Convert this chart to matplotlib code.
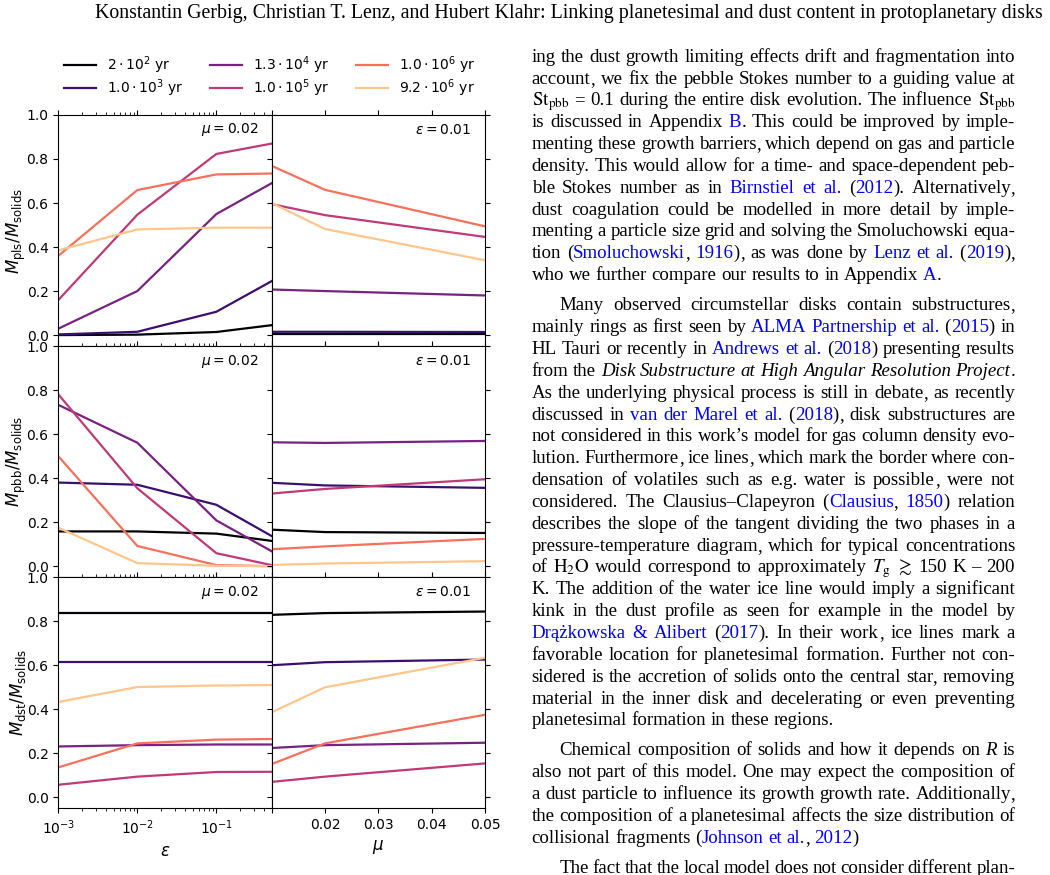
import re
import numpy as np
import matplotlib.pyplot as plt

# valores
eps = [1e-3, 1e-2, 1e-1, 0.5]
mu = [0.01, 0.02, 0.05]
times = [r'$2 \cdot 10^2$ yr', r'$1.0 \cdot 10^3$ yr', r'$1.3 \cdot 10^4$ yr',
         r'$1.0 \cdot 10^5$ yr', r'$1.0 \cdot 10^6$ yr', r'$9.2 \cdot 10^6$ yr']

# planetesimais
pls_eps = [
    [0.0, 0.002, 0.014, 0.045],
    [0.003, 0.015, 0.106, 0.245],
    [0.029, 0.20, 0.55, 0.69],
    [0.159, 0.547, 0.823, 0.870],
    [0.36, 0.659, 0.73, 0.734],
    [0.385, 0.48, 0.488, 0.488],
]
pls_mu = [
    [0.003, 0.003, 0.003],
    [0.015, 0.015, 0.014],
    [0.207, 0.200, 0.180],
    [0.595, 0.545, 0.446],
    [0.769, 0.660, 0.494],
    [0.600, 0.482, 0.340],
]
# pebbles
pbb_eps = [
    [0.158, 0.158, 0.148, 0.115],
    [0.380, 0.370, 0.279, 0.137],
    [0.733, 0.561, 0.208, 0.068],
    [0.781, 0.354, 0.059, 0.005],
    [0.500, 0.092, 0.005, 0.0],
    [0.175, 0.014, 0.002, 0.0],
]
pbb_mu = [
    [0.166, 0.155, 0.151],
    [0.379, 0.367, 0.356],
    [0.563, 0.560, 0.569],
    [0.330, 0.351, 0.395],
    [0.077, 0.090, 0.124],
    [0.006, 0.012, 0.023],
]
# poeira
dst_eps = [
    [0.836, 0.836, 0.836, 0.836],
    [0.613, 0.613, 0.613, 0.613],
    [0.231, 0.237, 0.240, 0.240],
    [0.057, 0.094, 0.115, 0.116],
    [0.136, 0.245, 0.262, 0.265],
    [0.433, 0.501, 0.508, 0.510],
]
dst_mu = [
    [0.829, 0.837, 0.844],
    [0.600, 0.614, 0.626],
    [0.224, 0.237, 0.248],
    [0.070, 0.094, 0.154],
    [0.151, 0.245, 0.375],
    [0.386, 0.500, 0.634],
]
ylabels = [r'$M_{\rm pls}/M_{\rm solids}$', r'$M_{\rm pbb}/M_{\rm solids}$',
           r'$M_{\rm dst}/M_{\rm solids}$']

header = ('Konstantin Gerbig, Christian T. Lenz, and Hubert Klahr: '
          'Linking planetesimal and dust content in protoplanetary disks')

# texto da coluna direita: listas de (texto, estilo) por linha
n, b, i, m = 'n', 'b', 'i', 'm'
para1 = [
    [("ing the dust growth limiting effects drift and fragmentation into", n)],
    [("account, we fix the pebble Stokes number to a guiding value at", n)],
    [(r"$\mathrm{St}_{\mathrm{pbb}}$", m), (" = 0.1 during the entire disk evolution. The influence ", n),
     (r"$\mathrm{St}_{\mathrm{pbb}}$", m)],
    [("is discussed in Appendix ", n), ("B", b), (". This could be improved by imple-", n)],
    [("menting these growth barriers, which depend on gas and particle", n)],
    [("density. This would allow for a time- and space-dependent peb-", n)],
    [("ble Stokes number as in ", n), ("Birnstiel et al.", b), (" (", n), ("2012", b),
     ("). Alternatively,", n)],
    [("dust coagulation could be modelled in more detail by imple-", n)],
    [("menting a particle size grid and solving the Smoluchowski equa-", n)],
    [("tion (", n), ("Smoluchowski", b), (", ", n), ("1916", b), ("), as was done by ", n),
     ("Lenz et al.", b), (" (", n), ("2019", b), ("),", n)],
    [("who we further compare our results to in Appendix ", n), ("A", b), (".", n)],
]
para2 = [
    [("Many observed circumstellar disks contain substructures,", n)],
    [("mainly rings as first seen by ", n), ("ALMA Partnership et al.", b), (" (", n),
     ("2015", b), (") in", n)],
    [("HL Tauri or recently in ", n), ("Andrews et al.", b), (" (", n), ("2018", b),
     (") presenting results", n)],
    [("from the ", n), ("Disk Substructure at High Angular Resolution Project", i), (".", n)],
    [("As the underlying physical process is still in debate, as recently", n)],
    [("discussed in ", n), ("van der Marel et al.", b), (" (", n), ("2018", b),
     ("), disk substructures are", n)],
    [("not considered in this work\u2019s model for gas column density evo-", n)],
    [("lution. Furthermore, ice lines, which mark the border where con-", n)],
    [("densation of volatiles such as e.g. water is possible, were not", n)],
    [("considered. The Clausius\u2013Clapeyron (", n), ("Clausius", b), (", ", n),
     ("1850", b), (") relation", n)],
    [("describes the slope of the tangent dividing the two phases in a", n)],
    [("pressure-temperature diagram, which for typical concentrations", n)],
    [("of ", n), (r"$\mathrm{H}_2\mathrm{O}$", m), (" would correspond to approximately ", n),
     (r"$T_\mathrm{g}$", m), (" ", n), (r"$\gtrsim$", m), (" 150 K \u2013 200", n)],
    [("K. The addition of the water ice line would imply a significant", n)],
    [("kink in the dust profile as seen for example in the model by", n)],
    [("Dr\u0105\u017ckowska & Alibert", b), (" (", n), ("2017", b),
     ("). In their work, ice lines mark a", n)],
    [("favorable location for planetesimal formation. Further not con-", n)],
    [("sidered is the accretion of solids onto the central star, removing", n)],
    [("material in the inner disk and decelerating or even preventing", n)],
    [("planetesimal formation in these regions.", n)],
]
para3 = [
    [("Chemical composition of solids and how it depends on ", n), ("R", i), (" is", n)],
    [("also not part of this model. One may expect the composition of", n)],
    [("a dust particle to influence its growth growth rate. Additionally,", n)],
    [("the composition of a planetesimal affects the size distribution of", n)],
    [("collisional fragments (", n), ("Johnson et al.", b), (", ", n), ("2012", b), (")", n)],
]
para4 = [
    [("The fact that the local model does not consider different plan-", n)],
]

fig, axs = plt.subplots(3, 2, figsize=(10.5, 8.75), dpi=100, sharex='col',
                        gridspec_kw=dict(hspace=0, wspace=0))
fig.subplots_adjust(left=0.0555, right=0.4619, top=0.8686, bottom=0.0762)

colors = plt.cm.magma([0.0, 0.2, 0.35, 0.52, 0.7, 0.88])
panels = [(pls_eps, pls_mu), (pbb_eps, pbb_mu), (dst_eps, dst_mu)]

for row, (left, right) in enumerate(panels):
    a, c = axs[row]
    for k in range(6):
        a.plot(eps, left[k], color=colors[k], lw=1.6, label=times[k])
        c.plot(mu, right[k], color=colors[k], lw=1.6)
    a.set_xscale('log')
    a.set_xlim(1e-3, 0.5)
    c.set_xlim(0.01, 0.05)
    c.set_xticks([0.01, 0.02, 0.03, 0.04, 0.05], ['', '0.02', '0.03', '0.04', '0.05'])
    for ax in (a, c):
        ax.set_ylim(-0.05, 1.0)
        ax.set_yticks(np.arange(0, 1.01, 0.2))
        ax.tick_params(which='both', direction='out', top=True, right=True, labelsize=10)
    c.tick_params(labelleft=False)
    a.set_ylabel(ylabels[row], fontsize=12, labelpad=-1)
    a.text(0.937, 0.935, r'$\mu = 0.02$', transform=a.transAxes, ha='right', va='center',
           fontsize=10)
    c.text(0.934, 0.935, r'$\varepsilon = 0.01$', transform=c.transAxes, ha='right',
           va='center', fontsize=10)

axs[2, 0].set_xlabel(r'$\varepsilon$', fontsize=12)
axs[2, 1].set_xlabel(r'$\mu$', fontsize=12)

handles, labels = axs[0, 0].get_legend_handles_labels()
fig.legend(handles, labels, ncol=3, loc='upper left', bbox_to_anchor=(57 / 1050, 1 - 47 / 875),
           frameon=False, fontsize=10, handlelength=2.3, borderpad=0, columnspacing=1.9,
           labelspacing=0.15)

# ---- texto da pagina ----
SERIF = 'Liberation Serif'
BODY = 13.6
LINK = '#0000ff'
renderer = fig.canvas.get_renderer()
W, H = fig.bbox.width, fig.bbox.height


def put(x, y, txt, st, size=BODY):
    kw = dict(fontsize=size, fontfamily=SERIF, va='baseline', ha='left', math_fontfamily='stix')
    if st == 'b':
        kw['color'] = LINK
    if st == 'i':
        kw['fontstyle'] = 'italic'
    return fig.text(x / W, 1 - y / H, txt, **kw)


def largura(txt, st):
    t = put(0, 0, txt, st)
    w = t.get_window_extent(renderer).width
    t.remove()
    return w


def palavras(segs):
    # separa em palavras; virgulas ficam como pedaco proprio
    words = [[]]
    for txt, st in segs:
        if st == 'm':
            words[-1].append((txt, st))
            continue
        parts = txt.split(' ')
        for k, p in enumerate(parts):
            if k > 0:
                words.append([])
            for q in re.split(r'(,)', p):
                if q:
                    words[-1].append((q, st))
    return [w for w in words if w]


def avancos(w):
    # posicao de cada pedaco dentro da palavra (ajuste antes da virgula)
    pos, xx = [], 0.0
    for k, (t, s) in enumerate(w):
        if t == ',' and k > 0 and w[k - 1][1] != 'm':
            pt = w[k - 1][0]
            xx += largura(pt + ',', n) - largura(pt, n) - largura(',', n)
        pos.append(xx)
        xx += largura(t, s)
    return pos, xx


espaco = largura('x x', n) - largura('xx', n)


def linha(y, segs, x0, x1, justificar):
    words = palavras(segs)
    lay = [avancos(w) for w in words]
    ws = [wd for _, wd in lay]
    gap = espaco
    if justificar and len(words) > 1:
        gap = (x1 - x0 - sum(ws)) / (len(words) - 1)
    x = x0
    for w, (pos, wd) in zip(words, lay):
        for (t, s), px in zip(w, pos):
            put(x + px, y, t, s)
        x += wd + gap


X0, X1 = 531.7, 1015.0
INDENT = 28.0
LEAD = 21.85
PARSKIP = 8.2

y = 61.7
for pi, (para, ultimo_aberto) in enumerate([(para1, False), (para2, False), (para3, False),
                                            (para4, True)]):
    for li, segs in enumerate(para):
        x0 = X0 + INDENT if (li == 0 and pi > 0) else X0
        just = (li < len(para) - 1) or ultimo_aberto
        linha(round(y), segs, x0, X1, just)
        y += LEAD
    y += PARSKIP

fig.text(95 / W, 1 - 18.3 / H, header, fontfamily=SERIF, fontsize=14.3, va='baseline', ha='left')

fig.savefig('out.png', dpi=100)
